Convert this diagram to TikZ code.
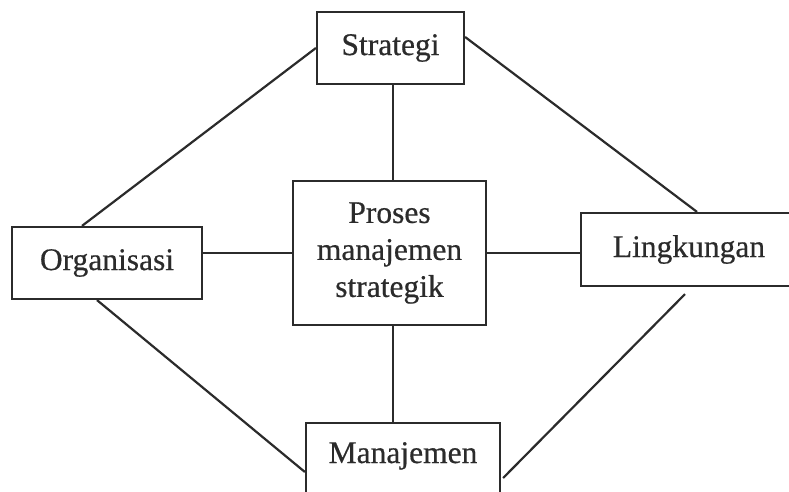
\documentclass[tikz,border=0pt]{standalone}
\usepackage{fontspec}
\setmainfont{Liberation Serif}
\newfontfamily\boxfont{Liberation Serif}[FakeBold=0.5]
\definecolor{ink}{HTML}{2B2B2B}
\begin{document}
\begin{tikzpicture}[x=1pt,y=-1pt,
  box/.style={draw=ink, line width=2.2pt, inner sep=0pt, text=ink,
    font=\boxfont\fontsize{31.5}{37}\selectfont, align=center},
  lbl/.style={inner sep=0pt, text=ink, font=\boxfont\fontsize{31.5}{37}\selectfont},
  link/.style={draw=ink, line width=2.2pt}]
\useasboundingbox (0,0) rectangle (789,492);
\clip (0,0) rectangle (789,492);
\fill[white] (0,0) rectangle (789,492);
\node[box, minimum width=147pt, minimum height=72pt] (strat) at (390.5,48) {Strategi};
\node[box, minimum width=190pt, minimum height=72pt] (org) at (107,263) {Organisasi};
\node[box, minimum width=193pt, minimum height=144pt] (cen) at (389.5,253) {Proses\\manajemen\\strategik};
\node[box, minimum width=216pt, minimum height=73pt] (ling) at (689,249.5) {Lingkungan};
\node[box, minimum width=194pt, minimum height=80pt] (man) at (403,463) {};
\node[lbl, anchor=base] (mantxt) at (403,463) {Manajemen};
% connectors
\draw[link] (strat.west) -- ([xshift=-25pt]org.north);
\draw[link] ([yshift=11pt]strat.east) -- ([xshift=8pt]ling.north);
\draw[link] ([xshift=-10pt]org.south) -- ([yshift=-9pt]man.west);
\draw[link] ([xshift=-4pt,yshift=-7pt]ling.south) -- ([xshift=2pt,yshift=-15pt]man.east);
\draw[link] ([xshift=3.5pt]cen.north) -- ([xshift=3.5pt]cen.north |- strat.south);
\draw[link] ([xshift=3.5pt]cen.south) -- ([xshift=3.5pt]cen.south |- man.north);
\draw[link] (cen.west) -- (cen.west -| org.east);
\draw[link] (cen.east) -- (cen.east -| ling.west);
\end{tikzpicture}
\end{document}
